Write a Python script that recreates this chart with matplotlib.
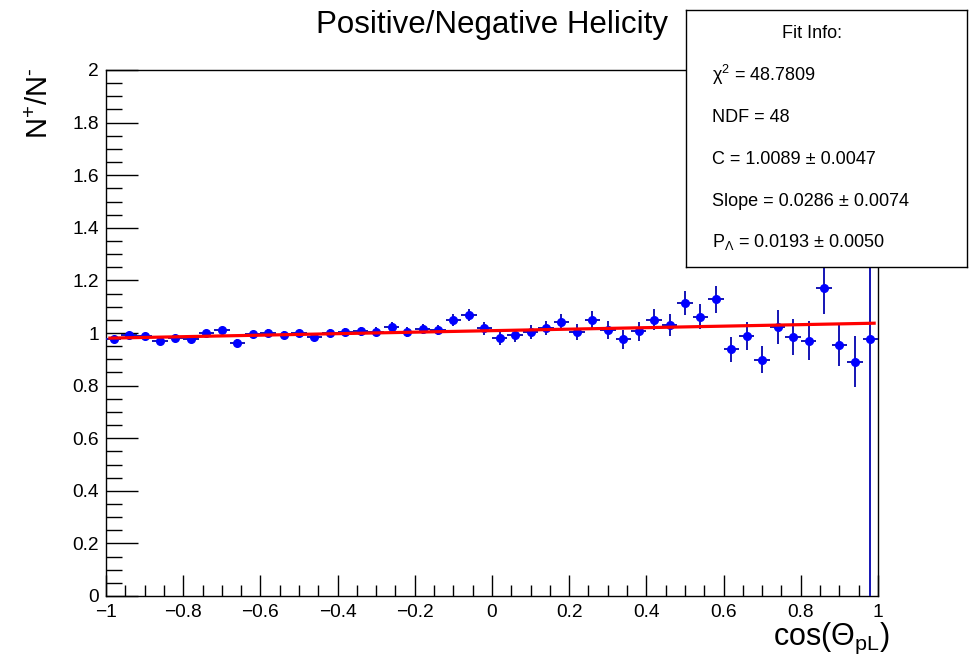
import numpy as np
import matplotlib
matplotlib.use("Agg")
import matplotlib.pyplot as plt
from matplotlib.ticker import MultipleLocator

plt.rcParams['font.family'] = ['Liberation Sans', 'DejaVu Sans']
plt.rcParams['mathtext.fontset'] = 'custom'
plt.rcParams['mathtext.rm'] = 'Liberation Sans'
plt.rcParams['mathtext.it'] = 'Liberation Sans:italic'

# 50 bins in cos(theta_pL), width 0.04
bin_centers = np.arange(-0.98, 1.0, 0.04)
bin_halfwidth = 0.02

ratio = [0.978, 0.992, 0.989, 0.970, 0.982, 0.977, 1.000, 1.011, 0.963, 0.995,
         1.001, 0.994, 0.999, 0.986, 1.000, 1.004, 1.006, 1.005, 1.024, 1.003,
         1.015, 1.011, 1.049, 1.067, 1.018, 0.980, 0.992, 1.004, 1.018, 1.043,
         1.003, 1.051, 1.010, 0.976, 1.006, 1.051, 1.030, 1.115, 1.062, 1.128,
         0.938, 0.987, 0.899, 1.022, 0.985, 0.971, 1.172, 0.953, 0.890, 0.976]

ratio_err = [0.011, 0.011, 0.011, 0.012, 0.012, 0.012, 0.012, 0.013, 0.013, 0.013,
             0.014, 0.014, 0.014, 0.015, 0.015, 0.015, 0.016, 0.016, 0.018, 0.018,
             0.019, 0.020, 0.023, 0.023, 0.024, 0.025, 0.025, 0.026, 0.027, 0.028,
             0.030, 0.033, 0.034, 0.035, 0.037, 0.039, 0.042, 0.045, 0.048, 0.051,
             0.047, 0.053, 0.050, 0.065, 0.068, 0.073, 0.100, 0.080, 0.097, 1.500]

# fit results
fit_C = 1.0089
fit_slope = 0.0286
fit_range = [-0.99, 0.99]

fit_lines = [r"χ$^{2}$ = 48.7809",
             "NDF = 48",
             "C = 1.0089 ± 0.0047",
             "Slope = 0.0286 ± 0.0074",
             r"P$_{\Lambda}$ = 0.0193 ± 0.0050"]


def tick_fmt(v, pos):
    v = round(v, 6)
    if v == 0:
        return "0"
    return f"{v:g}".replace('-', '\u2212')


W, H = 973, 662
fig = plt.figure(figsize=(W / 100, H / 100), dpi=100)
ax = fig.add_axes([106 / W, 1 - 596 / H, (878 - 106) / W, (596 - 70) / H])

ax.errorbar(bin_centers, ratio, yerr=ratio_err, xerr=bin_halfwidth,
            fmt='o', color='#0000ff', ecolor='#1414b4', elinewidth=1.4,
            markersize=5.5, capsize=0, zorder=3)

xf = np.array(fit_range)
ax.plot(xf, fit_C + fit_slope * xf, color='#ff0000', lw=2.3, zorder=4)

ax.set_xlim(-1, 1)
ax.set_ylim(0, 2)
ax.xaxis.set_major_locator(MultipleLocator(0.2))
ax.xaxis.set_minor_locator(MultipleLocator(0.05))
ax.yaxis.set_major_locator(MultipleLocator(0.2))
ax.yaxis.set_minor_locator(MultipleLocator(0.05))
ax.xaxis.set_major_formatter(plt.FuncFormatter(tick_fmt))
ax.yaxis.set_major_formatter(plt.FuncFormatter(tick_fmt))
ax.tick_params(axis='x', which='major', direction='in', length=15, width=1, labelsize=13.8, pad=6)
ax.tick_params(axis='x', which='minor', direction='in', length=8, width=1)
ax.tick_params(axis='y', which='major', direction='in', length=23, width=1, labelsize=13.8, pad=5)
ax.tick_params(axis='y', which='minor', direction='in', length=11.5, width=1)
for s in ax.spines.values():
    s.set_linewidth(1)

fig.text(492 / W, 1 - 25 / H, "Positive/Negative Helicity", fontsize=22.5,
         ha='center', va='center')
fig.text(40 / W, 1 - 68 / H, r"N$^{+}$/N$^{\text{-}}$", fontsize=21, rotation=90,
         ha='center', va='top')
fig.text(890 / W, 1 - 645 / H, r"cos($\Theta_{\mathrm{pL}}$)", fontsize=22,
         ha='right', va='baseline')

# fit info box
box = fig.add_axes([686 / W, 1 - 267 / H, (967 - 686) / W, (267 - 10) / H])
box.set_xticks([])
box.set_yticks([])
box.set_facecolor('white')
for s in box.spines.values():
    s.set_linewidth(1)
fig.text(812 / W, 1 - 33 / H, "Fit Info:", fontsize=13, ha='center', va='center')
line_y = [75, 117, 160, 202, 242]
for txt, yy in zip(fit_lines, line_y):
    fig.text(712 / W, 1 - yy / H, txt, fontsize=13, ha='left', va='center')

fig.savefig("out.png", dpi=100)
